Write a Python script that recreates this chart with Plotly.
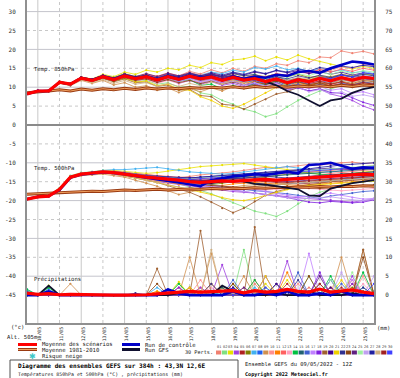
import plotly.graph_objects as go

# ---------------- data ----------------
HOURS = list(range(0, 385, 12))          # forecast hours, 12h steps
DAY_HOURS = [12, 36, 60, 84, 108, 132, 156, 180, 204, 228, 252, 276, 300, 324, 348, 372]
DAY_LABELS = ["10/05", "11/05", "12/05", "13/05", "14/05", "15/05", "16/05", "17/05",
              "18/05", "19/05", "20/05", "21/05", "22/05", "23/05", "24/05", "25/05"]

PERT_COLORS = ['#f08070', '#80e080', '#e8e000', '#a040e0', '#b02020', '#808000', '#40b0f0', '#2060f0',
               '#d09050', '#ff9090', '#ff8000', '#ff6060', '#ffa0c0', '#00c040', '#206070', '#4060d0',
               '#c080ff', '#8020e0', '#a06030', '#400090', '#f0d000', '#303090', '#8b4513', '#602080',
               '#a0f0a0', '#c0a0f0', '#2020a0', '#d0b080', '#a02020', '#4040ff']

T850_MEAN = [8.2, 9.0, 9.0, 11.3, 10.8, 12.4, 11.8, 12.8, 12.0, 13.0, 12.3, 12.8, 11.9, 12.8, 12.1, 12.9, 12.2,
             12.7, 11.8, 12.6, 11.9, 12.3, 11.5, 12.2, 11.2, 12.0, 11.5, 12.3, 11.7, 12.5, 11.9, 12.6, 12.3]
T850_CTRL = [8.2, 9.0, 9.0, 11.3, 10.8, 12.4, 11.9, 12.9, 12.1, 13.1, 12.4, 12.9, 12.0, 12.9, 12.3, 13.0, 12.4,
             12.9, 12.0, 12.8, 12.2, 12.8, 12.5, 13.3, 13.0, 14.0, 14.3, 13.8, 15.0, 15.8, 16.8, 16.5, 16.0]
T850_GFS = [8.2, 9.0, 9.0, 11.3, 10.8, 12.4, 11.8, 12.8, 12.0, 13.0, 12.3, 12.8, 11.9, 12.8, 12.1, 12.9, 12.2,
            12.7, 11.8, 12.6, 11.9, 12.3, 11.5, 10.5, 9.0, 8.0, 6.5, 5.0, 6.5, 7.0, 8.5, 9.5, 10.0]
T850_CLIM = [8.5, 8.7, 9.0, 9.3, 9.0, 9.5, 9.2, 9.6, 9.3, 9.7, 9.4, 9.8, 9.5, 9.8, 9.6, 9.9, 9.7,
             10.0, 9.8, 10.1, 9.8, 10.2, 9.9, 10.2, 10.0, 10.3, 10.1, 10.4, 10.1, 10.5, 10.2, 10.6, 10.4]
T850_PERTS = [
    [8.2,9.1,9.0,11.4,10.9,12.5,12.0,13.0,12.5,13.6,12.8,13.5,12.9,13.8,13.0,14.2,13.5,14.6,13.8,15.0,14.2,15.5,15.0,16.2,15.8,17.0,16.5,18.0,17.8,19.6,19.0,19.5,18.8],
    [8.2,9.0,8.9,11.2,10.6,12.2,11.5,12.4,11.6,12.3,11.5,11.8,10.8,11.2,10.0,10.2,8.5,8.0,6.5,5.5,4.2,3.5,2.2,3.0,4.8,6.5,7.8,9.0,9.5,10.5,10.0,11.0,10.8],
    [8.2,9.1,9.1,11.5,11.0,12.7,12.2,13.4,12.8,14.0,13.4,14.5,14.0,15.0,14.6,15.8,15.2,16.5,16.0,17.2,17.5,18.2,17.0,18.0,17.2,18.5,17.5,16.8,16.0,15.5,14.8,15.5,15.0],
    [8.2,9.0,9.0,11.3,10.7,12.3,11.6,12.5,11.7,12.6,11.8,12.2,11.2,12.0,11.0,11.8,10.8,11.5,10.5,11.0,10.2,10.8,9.8,10.5,9.5,10.0,9.0,9.5,8.2,7.5,6.5,5.0,4.0],
    [8.2,9.0,9.1,11.4,10.9,12.6,12.0,13.1,12.4,13.4,12.6,13.0,12.4,13.2,12.8,13.6,13.0,13.4,12.6,13.0,12.2,12.6,11.6,12.0,11.0,11.5,10.8,11.2,10.5,11.0,10.4,11.2,10.8],
    [8.2,8.9,8.9,11.1,10.6,12.2,11.6,12.6,11.8,12.8,12.0,12.4,11.4,12.2,11.5,12.4,11.8,12.5,11.9,12.8,12.4,13.2,12.8,13.5,12.8,13.4,12.6,13.0,12.2,12.8,12.0,12.5,12.0],
    [8.2,9.0,9.0,11.3,10.8,12.4,11.9,13.0,12.3,13.2,12.5,13.1,12.4,13.4,12.9,13.8,13.2,14.0,13.6,14.5,14.0,15.2,14.8,15.6,14.6,15.0,14.2,14.8,14.0,14.6,13.8,14.2,13.6],
    [8.2,9.1,9.0,11.2,10.7,12.3,11.7,12.6,11.8,12.7,11.9,12.5,11.6,12.5,11.9,12.7,12.0,12.4,11.4,12.0,11.2,11.8,11.0,11.6,10.5,11.4,10.8,11.7,11.2,12.0,11.5,12.2,11.8],
    [8.2,9.0,8.9,11.0,10.4,11.8,11.0,11.8,10.6,11.2,10.0,10.4,9.2,9.8,8.6,9.6,8.8,9.8,9.0,10.2,9.6,10.6,10.0,11.0,10.2,11.2,10.6,11.6,11.0,12.0,11.4,12.0,11.6],
    [8.2,9.1,9.1,11.4,10.9,12.5,11.9,12.9,12.2,13.2,12.6,13.3,12.6,13.6,13.0,13.9,13.2,13.8,13.0,13.6,12.8,13.4,12.6,13.4,12.8,14.0,13.6,14.8,14.4,15.4,15.0,16.0,15.6],
    [8.2,9.0,9.0,11.3,10.8,12.4,11.7,12.7,11.9,12.9,12.1,12.6,11.7,12.6,11.8,12.5,11.6,12.2,11.2,11.8,11.0,11.6,10.6,11.2,10.2,11.0,10.4,11.2,10.6,11.4,10.8,11.5,11.0],
    [8.2,9.0,9.1,11.3,10.9,12.5,12.0,13.0,12.3,13.3,12.7,13.4,12.8,13.6,12.9,13.6,12.8,13.3,12.4,13.0,12.4,13.2,12.7,13.6,13.2,14.2,13.8,14.6,14.0,14.8,14.2,15.0,14.5],
    [8.2,8.9,8.9,11.2,10.6,12.2,11.5,12.5,11.6,12.6,11.7,12.1,11.0,11.8,11.0,11.9,11.2,12.0,11.4,12.4,11.8,12.6,11.8,12.3,11.2,11.8,11.0,11.5,10.6,11.2,10.4,11.0,10.6],
    [8.2,9.0,9.0,11.4,10.9,12.6,12.1,13.1,12.5,13.5,12.8,13.2,12.2,12.8,11.6,12.0,10.5,10.8,9.6,10.4,9.8,11.0,10.6,11.8,11.2,12.2,11.8,12.8,12.4,13.2,12.8,13.6,13.2],
    [8.2,9.0,9.0,11.2,10.7,12.3,11.8,12.8,12.0,13.0,12.2,12.9,12.0,12.9,12.3,13.2,12.6,13.3,12.8,13.6,13.0,13.4,12.4,12.8,11.8,12.4,11.6,12.2,11.6,12.4,11.8,12.4,12.0],
    [8.2,9.1,9.0,11.3,10.8,12.4,11.8,12.7,11.9,12.8,12.0,12.6,11.8,12.6,12.0,12.8,12.1,12.6,11.6,12.2,11.4,11.8,10.8,11.2,10.2,10.8,10.0,10.8,10.2,11.0,10.6,11.4,11.0],
    [8.2,9.0,9.0,11.3,10.7,12.3,11.6,12.5,11.7,12.7,11.9,12.4,11.4,12.3,11.5,12.2,11.3,11.8,10.8,11.4,10.6,11.2,10.4,11.0,9.8,10.4,9.6,10.2,9.2,9.6,8.4,8.8,8.0],
    [8.2,9.0,9.0,11.4,10.9,12.5,11.9,12.9,12.2,13.1,12.4,12.9,12.0,12.8,12.0,12.6,11.8,12.2,11.0,11.6,10.6,11.0,9.8,10.2,9.2,9.8,9.0,9.6,8.6,8.4,7.2,6.0,5.2],
    [8.2,9.0,9.0,11.2,10.6,12.1,11.4,12.3,11.4,12.2,11.2,11.4,10.2,10.6,9.2,9.4,7.8,7.5,5.5,5.2,4.2,5.5,6.8,8.2,8.8,10.0,10.2,11.2,10.8,11.6,11.0,11.8,11.4],
    [8.2,9.1,9.0,11.3,10.8,12.4,11.8,12.8,12.1,13.1,12.4,13.0,12.2,13.0,12.4,13.3,12.7,13.5,12.9,13.8,13.2,14.0,13.5,14.4,13.8,14.4,13.6,14.2,13.4,14.0,13.2,13.8,13.4],
    [8.2,9.0,9.0,11.3,10.8,12.4,11.7,12.6,11.7,12.4,11.4,11.6,10.4,10.8,9.4,9.2,7.5,6.5,5.0,4.4,5.5,7.0,8.5,10.0,10.8,12.0,12.2,13.0,12.8,13.4,13.0,13.6,13.2],
    [8.2,9.0,9.0,11.3,10.8,12.5,12.0,13.0,12.3,13.3,12.5,13.1,12.3,13.2,12.5,13.4,12.7,13.4,12.6,13.2,12.3,12.9,12.0,12.8,12.2,13.0,12.4,13.2,12.6,13.4,12.8,13.4,13.0],
    [8.2,9.0,8.9,11.1,10.5,12.1,11.4,12.4,11.6,12.5,11.8,12.2,11.3,12.0,11.2,11.8,11.0,11.6,10.8,11.4,10.6,11.4,10.8,11.6,10.8,11.4,10.6,11.2,10.2,10.8,10.0,10.6,10.2],
    [8.2,9.1,9.1,11.5,11.0,12.7,12.1,13.2,12.5,13.5,12.8,13.6,12.8,13.7,13.0,13.8,13.0,13.6,12.6,13.2,12.2,12.8,11.8,12.4,11.4,12.2,11.8,12.8,12.4,13.2,12.6,13.0,12.6],
    [8.2,9.0,9.0,11.3,10.8,12.4,11.8,12.8,12.1,13.0,12.3,12.8,11.9,12.7,11.9,12.6,11.8,12.4,11.6,12.6,12.0,12.8,12.2,13.2,12.6,13.6,13.0,14.0,13.4,14.2,13.6,14.4,14.0],
    [8.2,9.0,9.0,11.2,10.7,12.3,11.7,12.7,11.9,12.9,12.2,12.7,11.8,12.5,11.6,12.3,11.4,12.0,11.0,11.6,10.6,11.2,10.0,10.6,9.4,10.0,8.8,9.4,8.2,8.8,7.6,8.0,7.4],
    [8.2,9.0,9.0,11.3,10.9,12.5,11.9,12.9,12.2,13.2,12.5,13.2,12.5,13.4,12.8,13.6,13.0,13.8,13.2,14.0,13.4,14.2,13.6,14.5,14.0,14.8,14.3,15.2,14.8,15.6,15.2,15.8,15.4],
    [8.2,9.0,9.0,11.2,10.6,12.0,11.2,12.0,11.0,11.8,10.8,11.2,10.2,11.0,10.2,11.0,10.4,11.4,10.8,11.8,11.2,12.2,11.6,12.4,11.8,12.6,12.0,12.8,12.2,12.8,12.2,12.8,12.4],
    [8.2,9.0,9.1,11.4,10.9,12.5,11.9,12.9,12.2,13.2,12.4,13.0,12.1,13.0,12.3,13.1,12.4,13.0,12.0,12.8,12.0,12.6,11.6,12.2,11.2,11.8,11.0,11.6,10.8,11.4,10.6,11.2,10.8],
    [8.2,9.1,9.0,11.3,10.8,12.4,11.8,12.8,12.0,13.0,12.2,12.7,11.8,12.6,11.8,12.6,11.9,12.5,11.6,12.4,11.8,12.4,11.6,12.4,11.4,12.2,11.6,12.6,12.2,13.2,12.8,13.8,13.4],
]

T500_MEAN = [-19.6, -19.0, -18.8, -17.0, -13.8, -13.0, -12.7, -12.4, -12.6, -12.9, -13.4, -13.8, -14.0, -14.3, -14.6,
             -15.0, -15.2, -15.0, -14.8, -14.9, -14.6, -14.5, -14.4, -14.6, -14.4, -14.2, -14.0, -13.8, -13.7, -13.5,
             -13.2, -13.0, -13.1]
T500_CTRL = [-19.6, -19.0, -18.8, -17.2, -13.9, -13.1, -12.8, -12.5, -12.7, -13.0, -13.5, -14.0, -14.4, -14.8, -15.2,
             -15.8, -16.2, -14.6, -14.0, -13.6, -13.4, -13.0, -13.2, -12.8, -12.4, -12.8, -10.6, -10.4, -10.0, -10.8,
             -11.6, -11.2, -11.4]
T500_GFS = [-19.6, -19.0, -18.8, -17.0, -13.8, -13.0, -12.7, -12.4, -12.6, -12.9, -13.4, -13.8, -14.0, -14.3, -14.6,
            -15.0, -15.2, -15.4, -15.0, -14.6, -15.0, -15.6, -15.8, -16.2, -16.4, -17.0, -18.6, -18.8, -16.8, -16.0,
            -15.4, -15.0, -14.6]
T500_CLIM = [-18.3, -18.2, -18.0, -17.9, -17.8, -17.7, -17.5, -17.6, -17.4, -17.2, -17.3, -17.1, -17.0, -17.2, -17.0,
             -16.9, -17.0, -16.8, -16.9, -16.7, -16.8, -16.6, -16.7, -16.5, -16.6, -16.4, -16.5, -16.3, -16.4, -16.2,
             -16.3, -16.1, -16.2]
T500_PERTS = [
    [-19.6,-19.1,-18.9,-17.2,-13.9,-13.2,-12.8,-12.6,-12.9,-13.3,-13.9,-14.2,-14.5,-14.2,-14.0,-13.6,-13.2,-13.0,-12.8,-12.4,-12.0,-11.6,-11.2,-11.4,-11.0,-10.8,-10.4,-10.6,-10.2,-10.0,-9.8,-10.2,-10.0],
    [-19.6,-19.0,-18.6,-16.6,-13.4,-12.6,-12.4,-12.2,-12.4,-12.8,-13.4,-14.0,-14.6,-15.0,-15.6,-16.4,-17.2,-18.2,-19.4,-20.6,-21.8,-22.8,-23.4,-24.2,-22.8,-20.8,-19.0,-17.8,-16.8,-16.0,-15.4,-15.0,-14.8],
    [-19.6,-19.0,-18.8,-17.0,-13.6,-12.8,-12.4,-12.0,-12.0,-12.2,-12.6,-12.8,-12.6,-12.2,-11.8,-11.4,-11.0,-10.8,-10.6,-10.4,-10.2,-10.6,-11.0,-11.4,-11.8,-12.2,-12.6,-13.0,-13.4,-13.0,-12.8,-12.4,-12.2],
    [-19.6,-19.1,-18.9,-17.3,-14.0,-13.2,-12.9,-12.7,-13.0,-13.4,-14.0,-14.6,-15.0,-15.4,-15.8,-16.2,-16.6,-17.0,-17.2,-17.6,-17.8,-18.0,-18.4,-18.6,-19.0,-19.2,-19.4,-19.6,-19.8,-20.2,-20.4,-20.0,-19.6],
    [-19.6,-19.0,-18.8,-17.1,-13.8,-13.0,-12.6,-12.2,-12.3,-12.6,-13.0,-13.3,-13.5,-13.8,-14.0,-14.3,-14.6,-14.8,-14.6,-14.8,-14.6,-14.8,-15.0,-15.2,-15.4,-15.6,-15.4,-15.2,-15.0,-14.8,-14.6,-14.4,-14.2],
    [-19.6,-19.0,-18.7,-16.8,-13.6,-12.8,-12.5,-12.3,-12.6,-13.0,-13.6,-14.0,-14.2,-14.6,-14.8,-15.2,-15.6,-15.8,-15.4,-15.0,-14.6,-14.2,-13.8,-13.4,-13.0,-12.8,-12.4,-12.2,-12.0,-11.6,-11.4,-11.0,-10.8],
    [-19.6,-19.0,-18.8,-17.0,-13.7,-12.8,-12.4,-12.0,-11.8,-11.8,-11.6,-11.4,-11.2,-11.6,-12.0,-12.4,-12.6,-12.8,-13.0,-12.8,-12.4,-12.0,-11.6,-11.2,-11.0,-11.4,-11.8,-12.2,-12.4,-12.0,-11.6,-11.2,-11.0],
    [-19.6,-19.1,-18.8,-17.1,-13.9,-13.1,-12.8,-12.5,-12.7,-13.0,-13.5,-14.0,-14.4,-14.6,-14.9,-15.2,-15.4,-15.2,-15.0,-15.2,-15.0,-15.4,-15.6,-15.8,-15.6,-15.4,-15.2,-15.0,-14.8,-14.6,-14.2,-14.0,-14.0],
    [-19.6,-19.0,-18.9,-17.4,-14.2,-13.4,-13.2,-13.0,-13.4,-13.8,-14.6,-15.4,-16.2,-17.4,-18.4,-17.8,-17.0,-16.6,-16.2,-16.4,-16.0,-15.8,-16.0,-15.6,-15.4,-15.0,-15.2,-14.8,-14.6,-14.2,-14.0,-13.8,-13.6],
    [-19.6,-19.0,-18.8,-17.0,-13.8,-12.9,-12.6,-12.3,-12.4,-12.7,-13.2,-13.6,-13.8,-14.0,-14.2,-14.4,-14.4,-14.2,-14.0,-13.8,-13.6,-13.4,-13.2,-13.0,-12.8,-12.6,-12.4,-12.2,-12.0,-11.8,-11.6,-11.4,-11.2],
    [-19.6,-19.1,-18.9,-17.2,-14.0,-13.2,-12.9,-12.7,-13.0,-13.4,-13.9,-14.4,-14.8,-15.2,-15.6,-15.8,-16.0,-16.2,-16.0,-15.6,-15.4,-15.2,-15.4,-15.6,-15.8,-16.0,-15.8,-15.6,-15.4,-15.2,-15.0,-14.8,-14.6],
    [-19.6,-19.0,-18.8,-16.9,-13.6,-12.8,-12.5,-12.2,-12.3,-12.5,-12.9,-13.2,-13.4,-13.6,-13.8,-14.0,-14.2,-14.0,-13.8,-13.6,-13.4,-13.8,-14.2,-14.6,-14.4,-14.0,-13.6,-13.2,-12.8,-12.6,-12.2,-12.0,-11.8],
    [-19.6,-19.0,-18.8,-17.0,-13.8,-13.0,-12.7,-12.5,-12.8,-13.2,-13.8,-14.2,-14.6,-15.0,-15.4,-15.8,-16.0,-16.2,-16.4,-16.6,-16.8,-17.0,-17.2,-17.0,-16.8,-16.6,-16.8,-17.0,-17.2,-17.4,-17.2,-17.0,-16.8],
    [-19.6,-19.0,-18.8,-17.0,-13.8,-13.0,-12.6,-12.4,-12.5,-12.8,-13.2,-13.6,-14.0,-14.4,-14.8,-15.0,-14.8,-14.6,-14.4,-14.0,-13.6,-13.2,-12.8,-12.6,-12.4,-12.6,-12.8,-13.0,-13.2,-13.0,-12.8,-12.6,-12.4],
    [-19.6,-19.0,-18.8,-17.1,-13.9,-13.1,-12.8,-12.6,-12.8,-13.1,-13.6,-14.0,-14.2,-14.4,-14.6,-14.8,-14.8,-14.6,-14.4,-14.2,-14.0,-13.8,-13.6,-13.4,-13.2,-13.0,-12.8,-12.6,-12.4,-12.2,-12.0,-11.8,-11.6],
    [-19.6,-19.0,-18.8,-17.0,-13.7,-12.9,-12.6,-12.3,-12.5,-12.8,-13.3,-13.7,-14.0,-14.4,-14.8,-15.2,-15.6,-16.0,-16.4,-16.8,-17.2,-17.4,-17.6,-17.8,-18.2,-18.6,-19.0,-19.4,-18.8,-18.4,-18.0,-17.6,-17.4],
    [-19.6,-19.0,-18.8,-17.0,-13.8,-13.0,-12.7,-12.4,-12.6,-12.9,-13.4,-13.8,-14.2,-14.6,-15.0,-15.4,-15.8,-16.0,-16.2,-16.4,-16.6,-17.0,-17.6,-18.2,-18.6,-19.0,-18.8,-18.4,-18.0,-18.6,-19.2,-19.6,-19.4],
    [-19.6,-19.1,-18.9,-17.2,-14.0,-13.2,-12.8,-12.6,-12.8,-13.2,-13.6,-14.0,-14.4,-14.8,-15.2,-15.6,-16.0,-16.4,-16.8,-17.2,-17.6,-18.0,-18.4,-18.8,-19.2,-19.8,-20.4,-20.6,-20.2,-20.4,-20.6,-20.4,-19.8],
    [-19.6,-19.0,-18.8,-17.0,-13.8,-13.0,-12.8,-12.6,-12.9,-13.4,-14.0,-14.6,-15.2,-16.0,-16.8,-17.8,-19.0,-20.4,-22.0,-23.2,-22.0,-20.2,-18.6,-17.6,-16.8,-16.2,-15.8,-15.4,-15.0,-14.8,-14.6,-14.4,-14.2],
    [-19.6,-19.0,-18.8,-17.0,-13.8,-13.0,-12.6,-12.3,-12.4,-12.6,-13.0,-13.4,-13.6,-13.8,-14.0,-14.0,-13.8,-13.6,-13.4,-13.2,-13.0,-12.8,-12.6,-12.4,-12.2,-12.0,-11.8,-11.6,-11.4,-11.6,-11.8,-11.6,-11.4],
    [-19.6,-19.0,-18.8,-17.0,-13.9,-13.1,-12.8,-12.6,-12.9,-13.4,-14.0,-14.6,-15.2,-15.8,-16.4,-17.0,-17.6,-18.4,-19.2,-19.8,-20.0,-19.4,-18.6,-17.8,-17.0,-16.4,-16.0,-15.8,-15.6,-15.4,-15.2,-15.0,-14.8],
    [-19.6,-19.0,-18.8,-17.0,-13.8,-13.0,-12.7,-12.4,-12.6,-12.9,-13.3,-13.7,-13.9,-14.2,-14.4,-14.6,-14.8,-14.6,-14.4,-14.2,-14.0,-13.8,-13.6,-13.8,-14.0,-13.8,-13.6,-13.4,-13.2,-13.0,-12.8,-12.6,-12.4],
    [-19.6,-19.0,-18.8,-17.1,-13.9,-13.1,-12.8,-12.6,-12.8,-13.1,-13.6,-14.0,-14.4,-14.8,-15.2,-15.6,-15.8,-16.0,-16.2,-16.4,-16.6,-16.8,-16.6,-16.4,-16.2,-16.4,-16.6,-16.8,-16.6,-16.4,-16.2,-16.0,-15.8],
    [-19.6,-19.0,-18.8,-17.0,-13.8,-13.0,-12.7,-12.4,-12.5,-12.8,-13.2,-13.6,-13.8,-14.0,-14.2,-14.4,-14.6,-14.4,-14.2,-14.0,-14.2,-14.4,-14.6,-14.8,-15.0,-14.8,-14.6,-14.4,-14.2,-14.0,-13.8,-13.6,-13.4],
    [-19.6,-19.0,-18.8,-16.9,-13.7,-12.9,-12.6,-12.3,-12.4,-12.6,-13.0,-13.4,-13.6,-13.8,-14.0,-14.2,-14.0,-13.8,-13.6,-13.4,-13.2,-13.0,-12.8,-12.6,-12.4,-12.2,-12.0,-11.8,-11.6,-11.4,-11.2,-11.0,-10.8],
    [-19.6,-19.0,-18.8,-17.0,-13.8,-13.0,-12.7,-12.5,-12.7,-13.0,-13.5,-14.0,-14.4,-14.8,-15.2,-15.6,-16.0,-16.4,-16.8,-17.2,-17.6,-18.0,-18.4,-18.8,-19.2,-19.6,-19.4,-19.2,-19.0,-19.4,-19.8,-20.0,-19.6],
    [-19.6,-19.0,-18.8,-17.0,-13.8,-13.0,-12.6,-12.4,-12.5,-12.7,-13.1,-13.4,-13.6,-13.8,-13.9,-14.0,-13.8,-13.6,-13.4,-13.2,-13.0,-12.8,-12.6,-12.4,-12.2,-12.0,-11.6,-11.2,-10.8,-10.6,-10.4,-10.2,-10.0],
    [-19.6,-19.0,-18.8,-17.1,-13.9,-13.2,-12.9,-12.7,-13.0,-13.4,-14.0,-14.6,-15.2,-15.8,-16.4,-17.0,-17.2,-17.0,-16.8,-16.6,-16.4,-16.2,-16.0,-15.8,-15.6,-15.4,-15.2,-15.0,-14.8,-14.6,-14.4,-14.2,-14.0],
    [-19.6,-19.0,-18.8,-17.0,-13.8,-13.0,-12.7,-12.4,-12.6,-12.9,-13.3,-13.7,-14.0,-14.3,-14.6,-14.9,-15.2,-15.0,-14.8,-14.6,-14.4,-14.6,-14.8,-15.0,-15.2,-15.0,-14.8,-14.6,-14.4,-14.2,-14.0,-13.8,-13.6],
    [-19.6,-19.0,-18.8,-17.0,-13.7,-12.9,-12.6,-12.3,-12.5,-12.8,-13.2,-13.6,-13.8,-14.0,-14.2,-14.4,-14.2,-14.0,-13.8,-13.6,-13.4,-13.2,-13.0,-12.8,-12.6,-12.4,-12.2,-12.0,-11.8,-11.6,-11.4,-11.2,-11.0],
]

PREC_MEAN = [0.5,0.2,0.4,0.1,0.2,0.1,0,0,0,0,0, 0.1,0.3,0.5,0.6,1.0,0.8,0.9,1.0,1.2,0.6,1.2, 0.8,1.0,1.5,1.0,0.8,1.6,0.8,1.2,1.4,0.8,0.4]
PREC_CTRL = [0,0,1,0,0,0,0,0,0,0,0, 0,0,1.5,0.5,0,0,0,0,1,0,0, 0.5,0,1,0,0,0.5,0,1,0,0,0]
PREC_GFS = [0.5,0,2.5,0,0,0,0,0,0,0,0, 0,0,0,0.5,0,0,0,2.5,1,0,0, 0,0.5,0,0,1,0,0,0,0.5,0,0]
PREC_PERTS = [
    [0.5,0,0.5,0,0,0,0,0,0,0,0, 0,0.5,1,0,0,2,0,1,0,0,3, 0,1,0,0,2,0,0,1,4,0,0],
    [1,0,2,0,0,0,0,0,0,0,0, 0,0,0,3,0,0,1,0,0,12,0, 2,0,0,0,5,0,1,0,0,2,0],
    [0.5,0,2.5,0,0,0,0,0,0,0,0, 0,1,0,3.5,0,0,0,2,0,0,0, 3,0,4,0,0,0,2,0,0,1,0],
    [0,0,0,0,0,0,0,0,0,0,0, 0,0,1,0,0,2,0,8,0,0,1, 0,0,9,0,0,0,4,0,5,0,1],
    [0,0,0,0,0,0,0,0,0,0,0, 0,0,0,0,2,0,0,0,0,0,0, 1,0,3,0,0,0,0,2,0,0,0],
    [0,0,0.5,0,0,0,0,0,0,0,0, 0,0,0,0,0,1,0,0,3,0,0, 0,0,0,1,0,0,0,0,2,0,0],
    [1.5,0,1,0,0,0,0,0,0,0,0, 0,2,0,0,0,0,0,1,0,0,2, 0,0,0,0,0,3,0,0,0,0,1],
    [1,0,1.5,0,0,0,0,0,0,0,0, 0,0,1.5,0,0,0,0,0,2,0,0, 0,1,0,0,0,0,4,0,0,0,0],
    [0,0,0,0,3,0,0,0,0,0,0, 0,0,0,0,10,0,11,0,0,5,0, 0,0,0,0,0,3,0,10,0,12,0],
    [0,0,0,0,0,0,0,0,0,0,0, 0,0,0,0,0,4,0,0,0,2,0, 0,0,0,3,0,0,0,0,0,5,0],
    [0,0,0,0,0,0,0,0,0,0,0, 0,1,0,0,0,0,3,0,0,0,0, 0,0,6,0,0,0,0,0,3,0,0],
    [0,0,0,0,0,0,0,0,0,0,0, 0,0,0,2,0,0,0,0,0,0,4, 0,0,0,0,0,0,2,0,0,0,0],
    [0,0,0,0,0,0,0,0,0,0,0, 0,0,0,0,0,0,2,0,0,0,0, 0,3,0,0,0,0,0,0,0,3,0],
    [1.5,0,2,0,0,0,0,0,0,0,0, 0,0,0,3,0,0,0,0,0,0,4, 0,0,0,0,0,0,5,0,0,6,0],
    [0,0,0,0,0,0,0,0,0,0,0, 0,0,0,0,0,0,0,2,0,0,0, 0,3,0,0,0,0,0,0,0,1,0],
    [0,0,0,0,0,0,0,0,0,0,0, 0,0,0,0,0,0,0,0,4,0,0, 0,0,0,6,0,0,0,3,0,0,0],
    [0,0,0,0,0,0,0,0,0,0,0, 0,0,0,0,0,0,0,0,0,0,0, 0,0,0,0,11,0,0,0,4,0,0],
    [0,0,0,0,0,0,0,0,0,0,0, 0,0,0,2,0,0,0,0,0,0,0, 5,0,0,0,0,6,0,0,3,0,0],
    [0,0,0,0,0,0,0,0,0,0,0, 0,7,0,0,0,17,0,0,0,0,18, 0,0,0,0,0,0,0,0,0,12,0],
    [0,0,0,0,0,0,0,0,0,0,0, 0,0,0,0,0,0,0,0,2,0,0, 0,3,0,0,0,0,2,0,0,0,0],
    [0,0,1,0,0,0,0,0,0,0,0, 0,0,0,0,2,0,0,0,0,0,0, 5,0,0,0,0,0,0,4,0,0,0],
    [0,0,0,0,0,0,0,0,0,0,0.5, 0,0,0,0,0,0,3,0,0,0,0, 0,0,0,4,0,0,0,0,0,0,0],
    [0,0,0,0,0,0,0,0,0,0,0, 0,3,0,0,0,0,0,0,3,0,0, 0,0,0,0,5,0,0,0,0,10,0],
    [0,0,0,0,0,0,0,0,0,0,0, 0,0,0,0,0,0,0,0,0,2,0, 0,0,0,0,0,5,0,0,0,0,0],
    [0,0,0,0,0,0,0,0,0,0,0, 0,0,0,0,0,0,0,0,0,0,0, 0,0,0,0,0,0,4,0,6,0,0],
    [0,0,0,0,0,0,0,0,0,0,0, 0,0,0,0,0,0,0,0,0,0,0, 0,0,0,0,0,0,0,6,0,0,5],
    [0,0,0,0,0,0,0,0,0,0,0, 0,0,0,0,0,0,0,0,0,0,0, 0,0,0,0,0,0,0,0,0,2,0],
    [0,0,0,0,0,0,0,0,0,0,0, 0,0,0,0,0,0,12,0,0,0,0, 0,0,0,0,0,0,0,0,0,0,0],
    [0,0,0,0,0,0,0,0,0,0,0, 0,0,0,0,0,0,0,0,0,0,0, 0,0,0,0,0,3,0,0,0,0,0],
    [0,0,0,0,0,0,0,0,0,0,0, 0,0,0,0,0,0,0,0,0,0,0, 2,0,0,0,0,0,0,0,0,0,3],
]

LEFT_TICKS = [30, 25, 20, 15, 10, 5, 0, -5, -10, -15, -20, -25, -30, -35, -40, -45]
RIGHT_TICKS = [75, 70, 65, 60, 55, 50, 45, 40, 35, 30, 25, 20, 15, 10, 5, 0]
PREC_OFFSET = 45   # right (mm) scale = left scale + 45

# ---------------- layout geometry ----------------
W, H = 400, 378
L, R, T, B = 27, 26, 0, 55
PW, PH = W - L - R, H - T - B
Y_RANGE = [-52.38, 33.07]
MONO = "DejaVu Sans Mono"


def px(x):
    return (x - L) / PW


def py(y):
    return (T + PH - y) / PH


fig = go.Figure()


def line(xv, yv, color, width, yaxis='y', markers=False, dash=None):
    n = len(yv)
    fig.add_trace(go.Scatter(
        x=xv[:n], y=yv, yaxis=yaxis, mode='lines+markers' if markers else 'lines',
        line=dict(color=color, width=width, dash=dash),
        marker=dict(size=2.2, color=color), showlegend=False, hoverinfo='skip'))


# perturbation members
for vals, col in zip(T850_PERTS, PERT_COLORS):
    line(HOURS, vals, col, 0.8, markers=True)
for vals, col in zip(T500_PERTS, PERT_COLORS):
    line(HOURS, vals, col, 0.8, markers=True)

# climatology (double line)
for clim in (T850_CLIM, T500_CLIM):
    line(HOURS, clim, '#9a3a10', 3.0)
    line(HOURS, clim, '#f0a060', 1.0)

# GFS / control / mean
for g, c, m in ((T850_GFS, T850_CTRL, T850_MEAN), (T500_GFS, T500_CTRL, T500_MEAN)):
    line(HOURS, g, '#101030', 1.8)
    line(HOURS, c, '#0000c8', 2.6)
    line(HOURS, m, '#ff0000', 3.2)

# precipitation on the right (mm) axis
for vals, col in zip(PREC_PERTS, PERT_COLORS):
    line(HOURS, vals, col, 0.8, yaxis='y2', markers=True)
line(HOURS, PREC_GFS, '#101030', 1.8, yaxis='y2')
line(HOURS, PREC_CTRL, '#0000c8', 2.6, yaxis='y2')
line(HOURS, PREC_MEAN, '#ff0000', 3.2, yaxis='y2')

# ---------------- grid ----------------
shapes = []
for v in LEFT_TICKS:
    solid = (v % 10 == 0)
    shapes.append(dict(type='line', xref='paper', x0=0, x1=1, yref='y', y0=v, y1=v, layer='below',
                       line=dict(color='#c4c4cc' if solid else '#c8c8c8', width=1,
                                 dash='solid' if solid else 'dot')))
for k, h in enumerate(DAY_HOURS):
    shapes.append(dict(type='line', xref='x', x0=h, x1=h, yref='paper', y0=0, y1=1, layer='below',
                       line=dict(color='#c8c8c8', width=1, dash='solid' if k % 2 == 0 else 'dot')))
# panel separator
shapes.append(dict(type='line', xref='paper', x0=0, x1=1, yref='y', y0=0, y1=0,
                   line=dict(color='#8a8a8a', width=2)))

# ---------------- legend / footer (decorations) ----------------
ann = []


def text(x, y, s, size=5.6, bold=False, color='#202020', anchor='left', family=MONO):
    ann.append(dict(xref='paper', yref='paper', x=px(x), y=py(y), text=('<b>%s</b>' % s) if bold else s,
                    showarrow=False, xanchor=anchor, yanchor='middle',
                    font=dict(family=family, size=size, color=color)))


def seg(x0, x1, y, color, width):
    shapes.append(dict(type='line', xref='paper', yref='paper', x0=px(x0), x1=px(x1), y0=py(y), y1=py(y),
                       line=dict(color=color, width=width)))


text(32, 70, 'Temp. 850hPa')
text(32, 168, 'Temp. 500hPa')
text(32, 279, 'Précipitations')
text(17, 327, '(°c)', anchor='center')
text(5, 337, 'Alt. 505m')
text(375, 328, '(mm)')

seg(18, 37, 344.5, '#ff0000', 3)
text(40, 345, 'Moyenne des scénarios')
seg(18, 37, 349.5, '#9a3a10', 3)
seg(18, 37, 349.5, '#f0a060', 1)
text(40, 350, 'Moyenne 1981-2010')
text(32, 356.5, '✱', size=8, color='#40c8c8', anchor='center', family='DejaVu Sans')
text(40, 356, 'Risque neige')
seg(122, 140, 344.5, '#0000c8', 3)
text(143, 345, 'Run de contrôle')
seg(122, 140, 349.5, '#101030', 3)
text(143, 350, 'Run GFS')
text(183, 352, '30 Perts.', size=5.2)

for i, col in enumerate(PERT_COLORS):
    x0 = 216 + i * 5.9
    shapes.append(dict(type='rect', xref='paper', yref='paper', x0=px(x0), x1=px(x0 + 5.2),
                       y0=py(354.5), y1=py(350.5), fillcolor=col, line=dict(width=0)))
    text(x0 + 2.6, 347, '%02d' % (i + 1), size=3.6, anchor='center', color='#404040')

shapes.append(dict(type='rect', xref='paper', yref='paper', x0=px(10), x1=px(238), y0=py(360), y1=py(378.5),
                   line=dict(color='#505050', width=1), fillcolor='rgba(0,0,0,0)'))
text(16, 366, 'Diagramme des ensembles GEFS sur 384h : 43,3N 12,6E', size=6.1, bold=True, color='#000000')
text(16, 374, 'Températures 850hPa et 500hPa (°C) , précipitations (mm)', size=4.9)
text(243, 364, 'Ensemble GEFS du 09/05/2022 - 12Z', size=5.4)
text(243, 374, 'Copyright 2022 Meteociel.fr', size=5.1, bold=True, color='#000000')

fig.update_layout(
    width=W, height=H, margin=dict(l=L, r=R, t=T, b=B), autosize=False,
    paper_bgcolor='white', plot_bgcolor='white', showlegend=False,
    shapes=shapes, annotations=ann,
    xaxis=dict(range=[0, 384], tickvals=DAY_HOURS, ticktext=DAY_LABELS, tickangle=-90,
               showgrid=False, zeroline=False, showline=True, linecolor='#909090', linewidth=2,
               ticks='', ticklabelstandoff=0, ticklabelshift=2,
               tickfont=dict(family=MONO, size=4.8, color='#303030')),
    yaxis=dict(range=Y_RANGE, tickvals=LEFT_TICKS, ticktext=[str(v) for v in LEFT_TICKS],
               showgrid=False, zeroline=False, showline=True, linecolor='#909090', linewidth=2,
               ticks='', ticklabelstandoff=8, tickfont=dict(family=MONO, size=6, color='#303030')),
    yaxis2=dict(range=[Y_RANGE[0] + PREC_OFFSET, Y_RANGE[1] + PREC_OFFSET], overlaying='y', side='right',
                tickvals=RIGHT_TICKS, ticktext=[str(v) for v in RIGHT_TICKS],
                showgrid=False, zeroline=False, showline=True, linecolor='#909090', linewidth=2,
                ticks='', ticklabelstandoff=8, tickfont=dict(family=MONO, size=6, color='#303030')),
)

fig.write_html("out.html", config={'displayModeBar': False},
               post_script="document.body.style.margin='0';document.body.style.overflow='hidden';")
